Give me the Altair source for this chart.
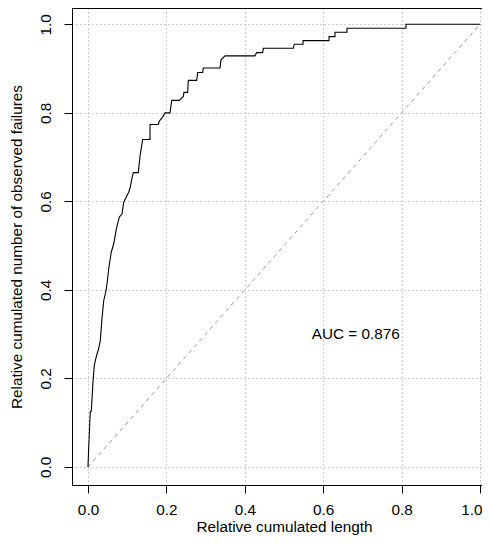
import altair as alt
import pandas as pd

# Step curve vertices
cum_length = [0.0, 0.0018, 0.0059, 0.0084, 0.0128, 0.0161, 0.0212, 0.0273, 0.0314, 0.0357,
              0.0401, 0.0459, 0.0485, 0.0528, 0.0594, 0.0656, 0.0722, 0.0798, 0.0867, 0.0911,
              0.1038, 0.1079, 0.1115, 0.1156, 0.1283, 0.1327, 0.1395, 0.1582, 0.1582, 0.1793,
              0.1819, 0.1906, 0.1964, 0.2092, 0.2135, 0.2329, 0.2431, 0.2449, 0.2543, 0.2559,
              0.2773, 0.2798, 0.2926, 0.2941, 0.3367, 0.3393, 0.3495, 0.4260, 0.4304, 0.4457,
              0.4472, 0.5237, 0.5263, 0.5485, 0.5485, 0.6148, 0.6148, 0.6301, 0.6301, 0.6607,
              0.6607, 0.8112, 0.8112, 1.0]
cum_failures = [0.0, 0.0427, 0.1259, 0.1259, 0.1934, 0.2294, 0.2496, 0.2676, 0.2856, 0.3351,
                0.3755, 0.3980, 0.4138, 0.4475, 0.4857, 0.5037, 0.5374, 0.5644, 0.5712, 0.5982,
                0.6206, 0.6319, 0.6499, 0.6649, 0.6649, 0.7023, 0.7398, 0.7398, 0.7736, 0.7736,
                0.7810, 0.7909, 0.7999, 0.7999, 0.8282, 0.8282, 0.8372, 0.8462, 0.8462, 0.8732,
                0.8732, 0.8912, 0.8912, 0.9011, 0.9011, 0.9197, 0.9287, 0.9287, 0.9361, 0.9361,
                0.9460, 0.9460, 0.9550, 0.9550, 0.9631, 0.9631, 0.9721, 0.9721, 0.9820, 0.9820,
                0.9910, 0.9910, 1.0, 1.0]

diag_x = [0.0, 1.0]
diag_y = [0.0, 1.0]

auc_label = ["AUC = 0.876"]
auc_x = [0.683]
auc_y = [0.3]

x_ticks = [0.0, 0.2, 0.4, 0.6, 0.8, 1.0]
y_ticks = [0.0, 0.2, 0.4, 0.6, 0.8, 1.0]

FONT = "Liberation Sans"
FS = 15.3
GRID = "#9a9a9a"

curve_df = pd.DataFrame({"x": cum_length, "y": cum_failures, "i": list(range(len(cum_length)))})
diag_df = pd.DataFrame({"x": diag_x, "y": diag_y})
auc_df = pd.DataFrame({"x": auc_x, "y": auc_y, "t": auc_label})

xscale = alt.Scale(domain=[-0.0408, 1.0051], nice=False, zero=False)
yscale = alt.Scale(domain=[-0.0407, 1.0368], nice=False, zero=False)

xaxis = alt.Axis(
    title="Relative cumulated length", values=x_ticks, format=".1f",
    grid=True, gridColor=GRID, gridDash=[1, 3], gridWidth=1,
    domainColor="black", domainWidth=1, tickColor="black", tickSize=8, tickWidth=1,
    labelFont=FONT, labelFontSize=FS, labelColor="black", labelBaseline="alphabetic",
    labelPadding=21, labelFlush=3, labelFlushOffset=2, labelOverlap=False,
    titleFont=FONT, titleFontSize=FS, titleFontWeight="normal", titleColor="black",
    titleBaseline="alphabetic", titleY=46, titleX=212, titleAlign="center",
)
yaxis = alt.Axis(
    title="Relative cumulated number of observed failures", values=y_ticks, format=".1f",
    grid=True, gridColor=GRID, gridDash=[1, 3], gridWidth=1,
    domainColor="black", domainWidth=1, tickColor="black", tickSize=8, tickWidth=1,
    labelFont=FONT, labelFontSize=FS, labelColor="black", labelAngle=270,
    labelAlign="center", labelBaseline="alphabetic", labelPadding=14,
    labelFlush=False, labelOverlap=False,
    titleFont=FONT, titleFontSize=FS, titleFontWeight="normal", titleColor="black",
    titleAngle=270, titleBaseline="alphabetic", titleX=-51, titleY=238.5, titleAlign="center",
)

diag = alt.Chart(diag_df).mark_line(color=GRID, strokeDash=[4, 4], strokeWidth=1).encode(
    x=alt.X("x:Q", scale=xscale, axis=xaxis),
    y=alt.Y("y:Q", scale=yscale, axis=yaxis),
)

curve = alt.Chart(curve_df).mark_line(color="black", strokeWidth=1.1).encode(
    x=alt.X("x:Q", scale=xscale),
    y=alt.Y("y:Q", scale=yscale),
    order="i:Q",
)

auc = alt.Chart(auc_df).mark_text(font=FONT, fontSize=FS, color="black",
                                  align="center", baseline="middle").encode(
    x=alt.X("x:Q", scale=xscale),
    y=alt.Y("y:Q", scale=yscale),
    text="t:N",
)

top_border = alt.Chart(auc_df).mark_rule(color="black", strokeWidth=1).encode(
    y=alt.value(0.5),
)

chart = alt.layer(diag, curve, auc, top_border).properties(
    width=410, height=477,
    autosize=alt.AutoSizeParams(type="none"),
    padding={"left": 64, "top": 0, "right": 0, "bottom": 50},
).configure_view(stroke=None).configure(background="white")

chart.save("out.html", embed_options={"renderer": "svg", "actions": False})
